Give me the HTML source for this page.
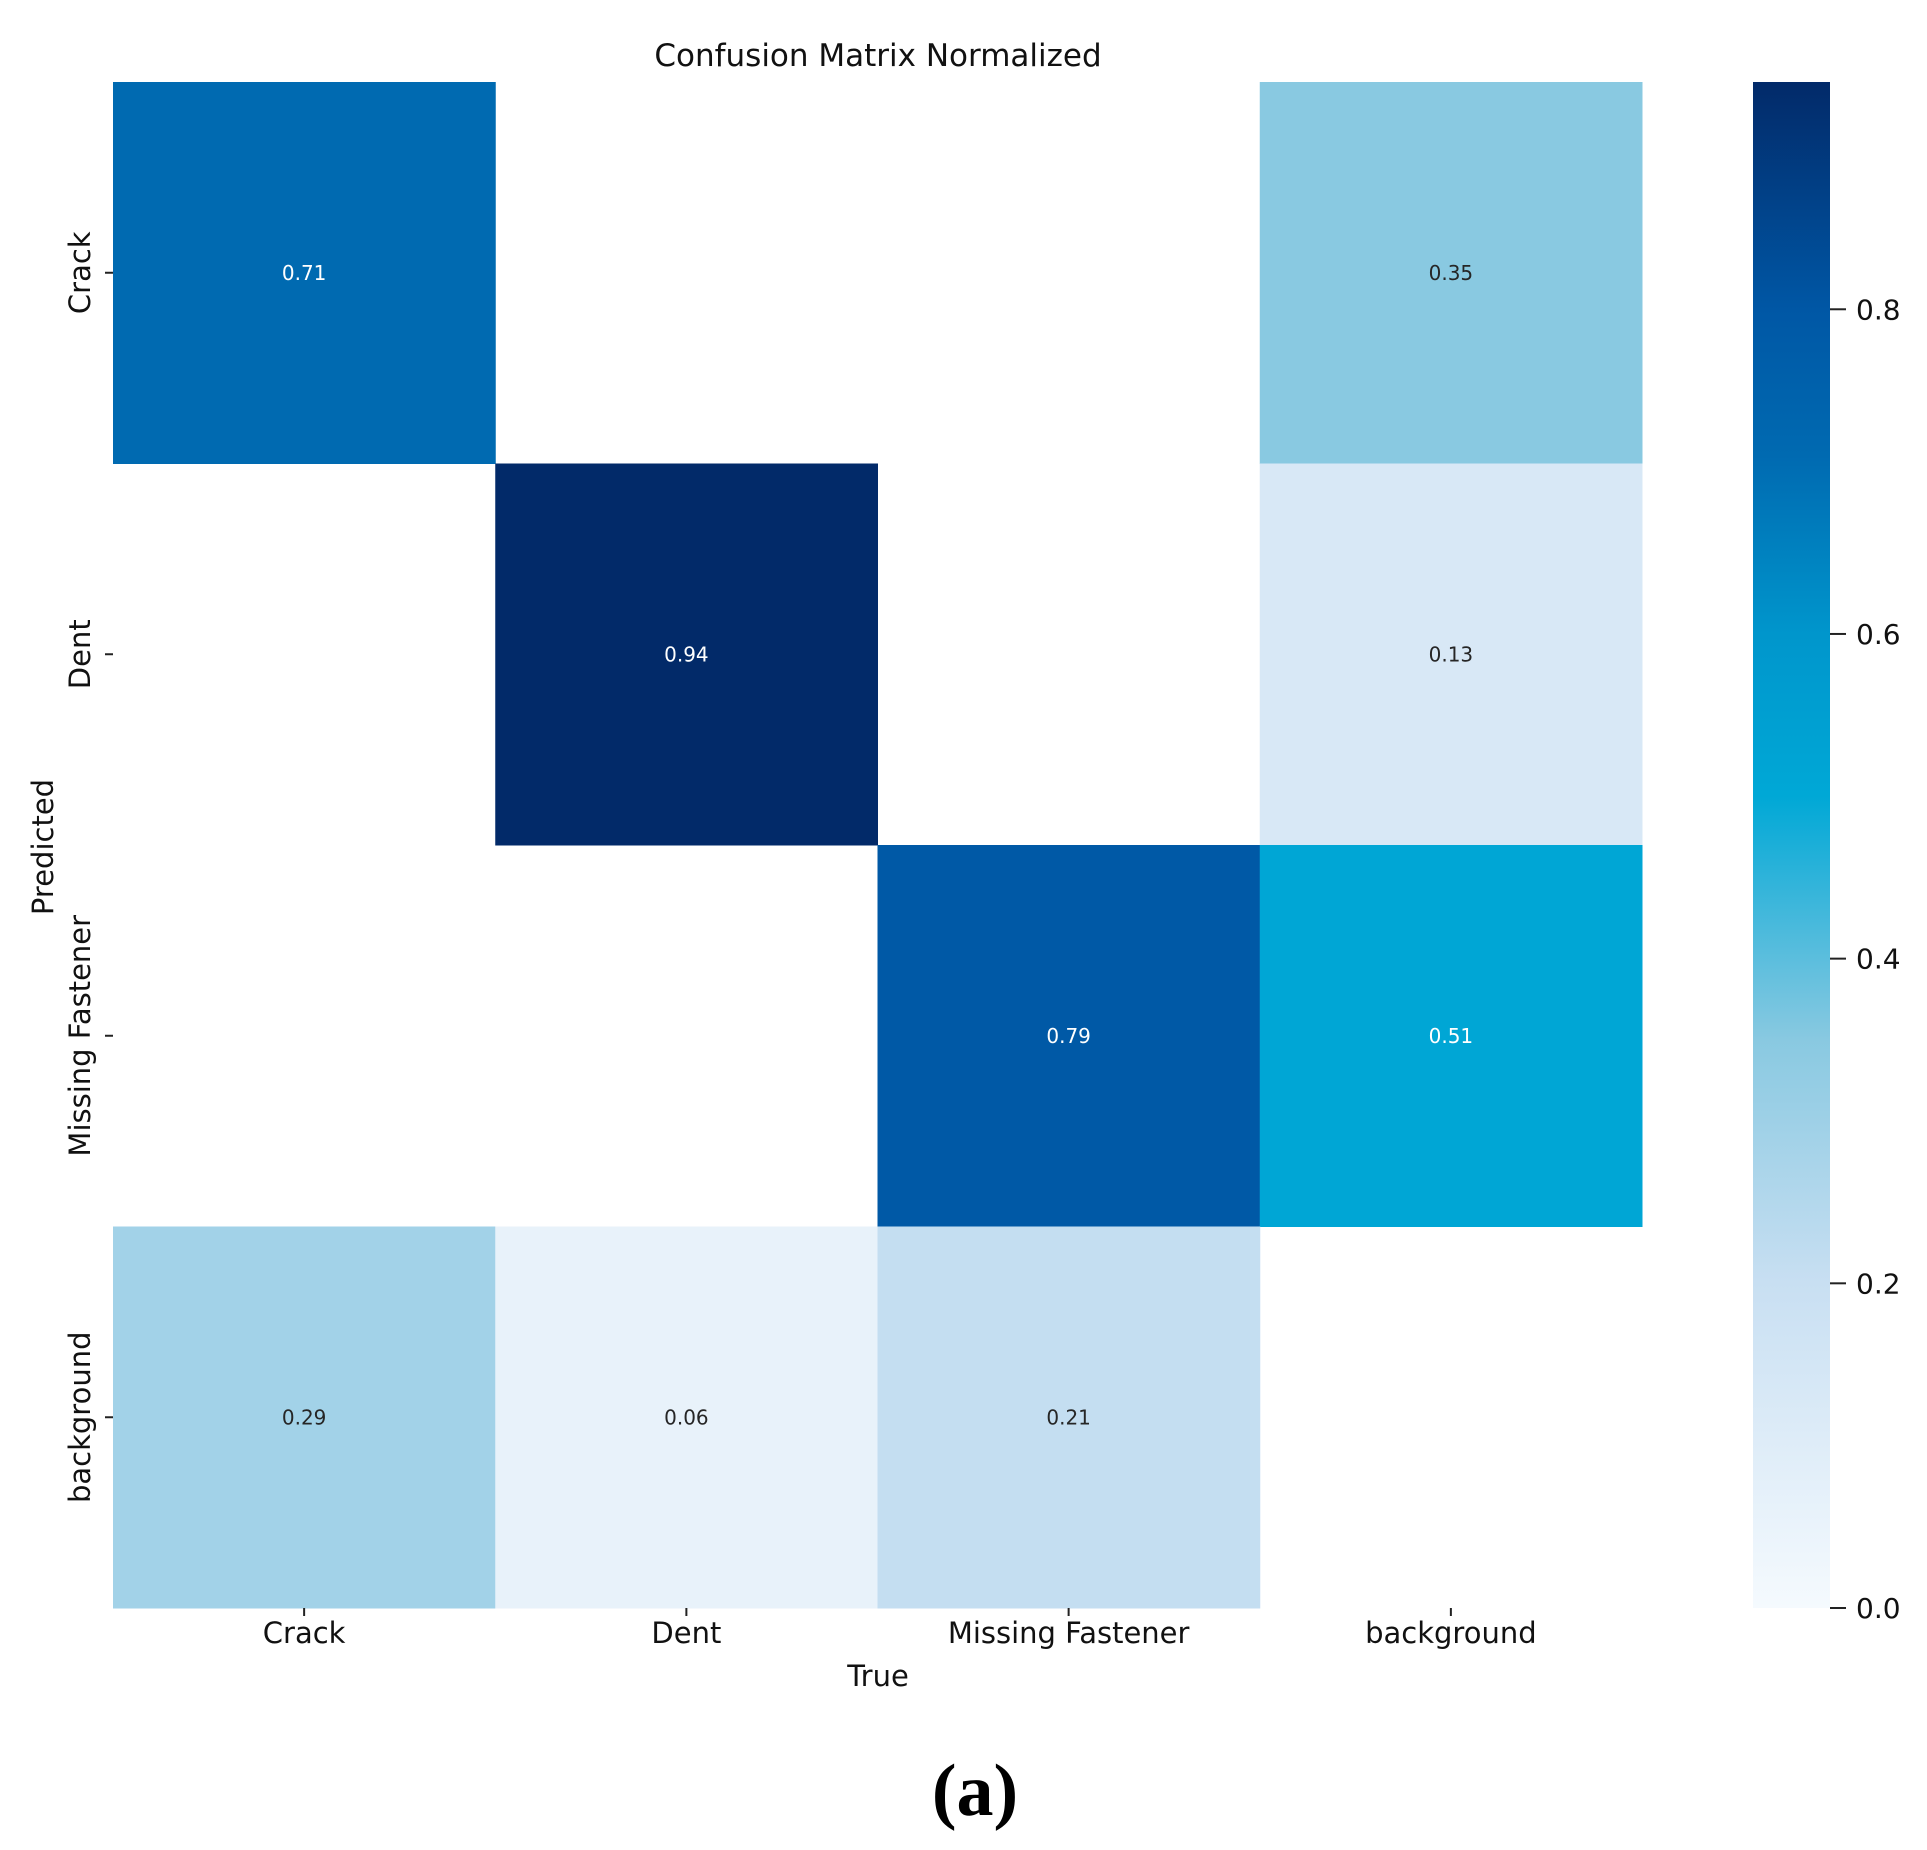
<!DOCTYPE html>
<html><head><meta charset="utf-8"><style>
html,body{margin:0;padding:0;background:#fff;}
svg{display:block;font-family:"DejaVu Sans","Liberation Sans",sans-serif;}
</style></head><body>
<svg id="chart" width="1927" height="1850" viewBox="0 0 1927 1850" xmlns="http://www.w3.org/2000/svg">
<defs>
<linearGradient id="cbgrad" x1="0" y1="1" x2="0" y2="0">
<stop offset="0" stop-color="#f5fafe"/>
<stop offset="0.213" stop-color="#c8dff2"/>
<stop offset="0.372" stop-color="#89c9e1"/>
<stop offset="0.532" stop-color="#00a8d6"/>
<stop offset="0.638" stop-color="#0096cc"/>
<stop offset="0.755" stop-color="#006ab1"/>
<stop offset="0.851" stop-color="#0057a5"/>
<stop offset="1" stop-color="#022a69"/>
</linearGradient>
</defs>
<text x="878" y="66" font-size="31" text-anchor="middle" fill="#111">Confusion Matrix Normalized</text>
<g id="cells"></g>
<g id="axes"></g>
<rect x="1753" y="82" width="77" height="1526" fill="url(#cbgrad)"/>
<g id="cbticks"></g>
<text transform="translate(53,847) rotate(-90)" font-size="29" text-anchor="middle" fill="#111">Predicted</text>
<text x="878" y="1686" font-size="29" text-anchor="middle" fill="#111">True</text>
<text x="975" y="1815" font-size="74" font-weight="bold" text-anchor="middle" font-family="Liberation Serif, serif" fill="#000">(a)</text>
</svg>
<script>
const categories = ["Crack", "Dent", "Missing Fastener", "background"];
const rowCrack = [0.71, null, null, 0.35];
const rowDent = [null, 0.94, null, 0.13];
const rowMissing = [null, null, 0.79, 0.51];
const rowBackground = [0.29, 0.06, 0.21, null];
const colorbarTicks = [0.0, 0.2, 0.4, 0.6, 0.8];
const vmax = 0.94;

const rows = [rowCrack, rowDent, rowMissing, rowBackground];
const NS = "http://www.w3.org/2000/svg";
const plotL = 113, plotR = 1642, plotT = 82, plotB = 1608;
const cw = (plotR - plotL) / categories.length, ch = (plotB - plotT) / categories.length;
const xPos = i => plotL + i * cw;
const yPos = i => plotT + i * ch;
const cbT = 82, cbB = 1608;
const cbY = v => cbB - (v / vmax) * (cbB - cbT);

const stops = [[0,[245,250,254]],[0.2,[200,223,242]],[0.35,[137,201,225]],[0.5,[0,168,214]],[0.6,[0,150,204]],[0.71,[0,106,177]],[0.8,[0,87,165]],[0.94,[2,42,105]]];
function cmap(v){
  for(let i=0;i<stops.length-1;i++){
    const [a,ca]=stops[i],[b,cb]=stops[i+1];
    if(v<=b){const t=(v-a)/(b-a);return "rgb("+ca.map((c,k)=>Math.round(c+(cb[k]-c)*t)).join(",")+")";}
  }
  const c=stops[stops.length-1][1];return "rgb("+c.join(",")+")";
}
function mk(tag, attrs, parent){const e=document.createElementNS(NS,tag);for(const k in attrs)e.setAttribute(k,attrs[k]);parent.appendChild(e);return e;}

const cellsG = document.getElementById("cells");
rows.forEach((row, r) => {
  row.forEach((v, c) => {
    if (v === null) return;
    const rect = mk("rect", {x:xPos(c), y:yPos(r), width:cw+0.5, height:ch+0.5, fill:cmap(v)}, cellsG);
    
    
    const t = mk("text", {x:xPos(c)+cw/2, y:yPos(r)+ch/2+7, "font-size":20, "text-anchor":"middle", fill: v > 0.5 ? "#fff" : "#262626"}, cellsG);
    
    
    t.textContent = v.toFixed(2);
  });
});

const axesG = document.getElementById("axes");
categories.forEach((name, i) => {
  const cx = xPos(i) + cw/2, cy = yPos(i) + ch/2;
  const xt = mk("line", {x1:cx, y1:plotB, x2:cx, y2:plotB+8, stroke:"#222", "stroke-width":2}, axesG);
  
  
  const xl = mk("text", {x:cx, y:1643, "font-size":29, "text-anchor":"middle", fill:"#111"}, axesG);
  
  
  xl.textContent = name;
  const yt = mk("line", {x1:plotL-8, y1:cy, x2:plotL, y2:cy, stroke:"#222", "stroke-width":2}, axesG);
  
  
  const yl = mk("text", {transform:"translate(90,"+cy+") rotate(-90)", "font-size":29, "text-anchor":"middle", fill:"#111"}, axesG);
  
  
  yl.textContent = name;
});

const cbG = document.getElementById("cbticks");
colorbarTicks.forEach(v => {
  const y = cbY(v);
  const l = mk("line", {x1:1830, y1:y, x2:1846, y2:y, stroke:"#222", "stroke-width":2}, cbG);
  
  
  const t = mk("text", {x:1856, y:y+10, "font-size":28, fill:"#111"}, cbG);
  
  
  t.textContent = v.toFixed(1);
});
</script>
</body></html>
